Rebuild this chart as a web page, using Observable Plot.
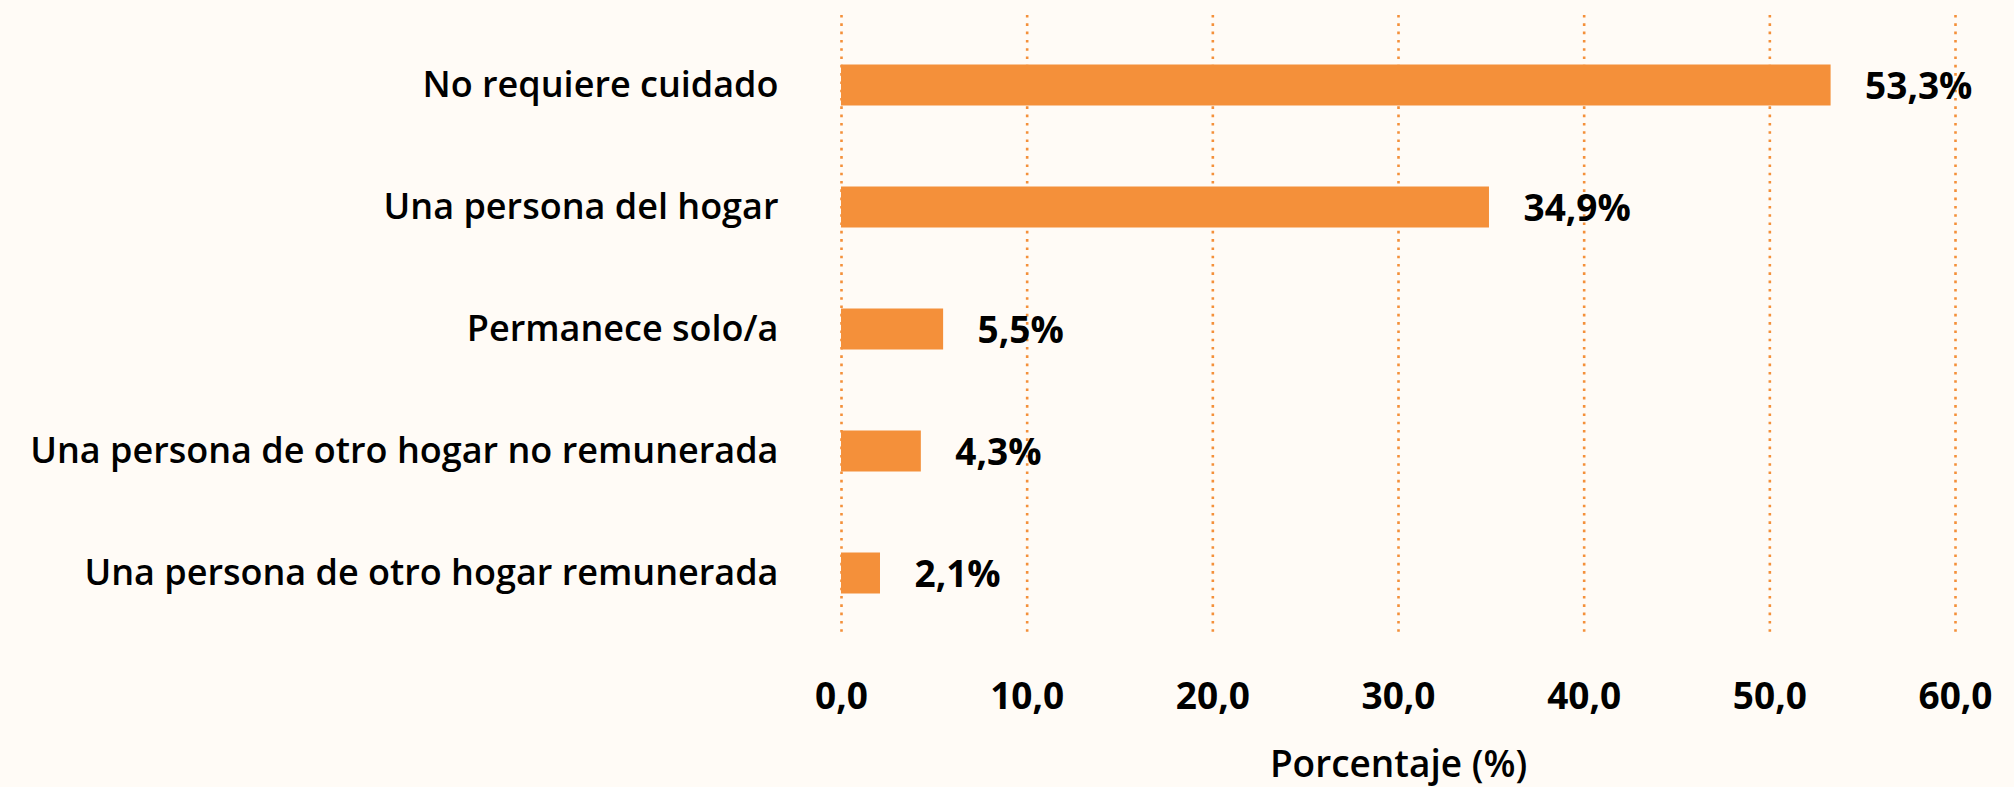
<!DOCTYPE html>
<html>
<head>
<meta charset="utf-8">
<script src="https://cdn.jsdelivr.net/npm/d3@7"></script>
<script src="https://cdn.jsdelivr.net/npm/@observablehq/plot@0.6"></script>
<style>
  html, body { margin: 0; padding: 0; background: #FFFBF6; }
  #chart svg { display: block; }
</style>
</head>
<body>
<div id="chart"></div>
<script>
const categories = [
  "No requiere cuidado",
  "Una persona del hogar",
  "Permanece solo/a",
  "Una persona de otro hogar no remunerada",
  "Una persona de otro hogar remunerada"
];
const values = [53.3, 34.9, 5.5, 4.3, 2.1];
const xTicks = [0, 10, 20, 30, 40, 50, 60];
const axisTitle = "Porcentaje (%)";

const data = categories.map((c, i) => ({category: c, value: values[i]}));
const comma1 = d => d.toFixed(1).replace(".", ",");

const orange = "#F4903A";
const fontFamily = "'Open Sans', Lato, sans-serif";

const chart = Plot.plot({
  width: 2014,
  height: 787,
  marginLeft: 841,
  marginRight: 59,
  marginTop: 15,
  marginBottom: 155,
  style: {background: "#FFFBF6", fontFamily, color: "#000"},
  x: {domain: [0, 60], ticks: xTicks, tickFormat: comma1},
  y: {domain: categories, range: [22, 635], padding: 0},
  marks: [
    Plot.ruleX(xTicks, {stroke: orange, strokeWidth: 2.6, strokeDasharray: "2.6,5.7"}),
    Plot.barX(data, {x: "value", y: "category", fill: orange, insetTop: 40.5, insetBottom: 40.5}),
    Plot.text(data, {
      x: "value", y: "category", text: d => comma1(d.value) + "%",
      textAnchor: "start", dx: 34, dy: 2,
      fontSize: 37, fontWeight: 700, fill: "#000"
    }),
    Plot.axisX({
      ticks: xTicks, tickFormat: comma1, tickSize: 0, tickPadding: 50,
      fontSize: 37, fontWeight: 700, label: null
    }),
    Plot.axisY({
      tickSize: 0, tickPadding: 63, fontSize: 36, fontWeight: 600, label: null
    }),
    Plot.text([axisTitle], {
      frameAnchor: "bottom", dy: 133, lineAnchor: "middle",
      fontSize: 37, fontWeight: 600, fill: "#000"
    })
  ]
});
chart.querySelectorAll("text").forEach(t => t.setAttribute("fill", "#000"));
document.getElementById("chart").appendChild(chart);
</script>
</body>
</html>
